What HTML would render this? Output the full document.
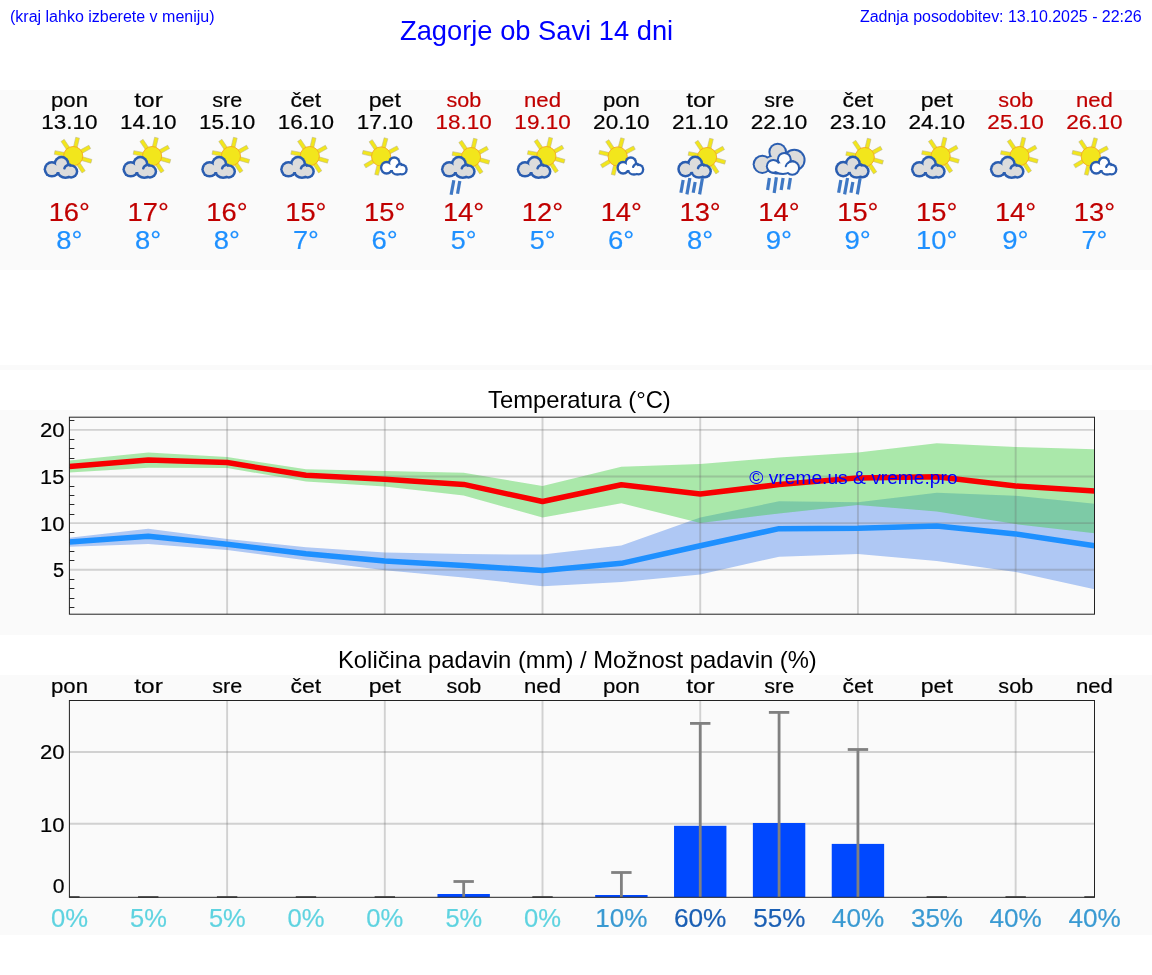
<!DOCTYPE html>
<html><head><meta charset="utf-8"><title>Zagorje ob Savi 14 dni</title>
<style>
html,body{margin:0;padding:0;background:#fff}
body{width:1152px;height:975px;position:relative;overflow:hidden;font-family:"Liberation Sans",sans-serif}
.band{position:absolute;left:0;width:1152px;background:#fafafa}
.t{position:absolute;white-space:nowrap;line-height:1;color:#0000ff}
svg{position:absolute;left:0;top:0;will-change:transform}
.t{will-change:transform}
svg text{font-family:"Liberation Sans",sans-serif}
</style></head><body>
<div class="band" style="top:90px;height:180px"></div>
<div class="band" style="top:365px;height:5px"></div>
<div class="band" style="top:410px;height:225px"></div>
<div class="band" style="top:675px;height:260px"></div>
<div class="t" style="left:10px;top:8.5px;font-size:16px">(kraj lahko izberete v meniju)</div>
<div class="t" style="right:9.8px;top:8.5px;font-size:16px;letter-spacing:-0.03px">Zadnja posodobitev: 13.10.2025 - 22:26</div>
<div class="t" style="left:399.6px;top:16.6px;font-size:27.3px">Zagorje ob Savi 14 dni</div>
<div class="t" style="left:487.5px;top:388px;font-size:23.8px;color:#000">Temperatura (°C)</div>
<div class="t" style="left:338.3px;top:647.5px;font-size:23.8px;color:#000">Količina padavin (mm) / Možnost padavin (%)</div>
<svg width="1152" height="975" viewBox="0 0 1152 975">
<text x="50.99" y="106.9" font-size="20.4" fill="#000" stroke="#000" stroke-width="0.2" textLength="36.98" lengthAdjust="spacingAndGlyphs">pon</text>
<text x="41.25" y="128.75" font-size="20" fill="#000" stroke="#000" stroke-width="0.2" textLength="56.34" lengthAdjust="spacingAndGlyphs">13.10</text>
<text x="48.68" y="221" font-size="26.4" fill="#c00000" stroke="#c00000" stroke-width="0.2" textLength="41.3" lengthAdjust="spacingAndGlyphs">16°</text>
<text x="56.18" y="248.8" font-size="26.4" fill="#1e90ff" stroke="#1e90ff" stroke-width="0.2" textLength="26.17" lengthAdjust="spacingAndGlyphs">8°</text>
<text x="134.23" y="106.9" font-size="20.4" fill="#000" stroke="#000" stroke-width="0.2" textLength="28.56" lengthAdjust="spacingAndGlyphs">tor</text>
<text x="120.1" y="128.75" font-size="20" fill="#000" stroke="#000" stroke-width="0.2" textLength="56.34" lengthAdjust="spacingAndGlyphs">14.10</text>
<text x="127.53" y="221" font-size="26.4" fill="#c00000" stroke="#c00000" stroke-width="0.2" textLength="41.3" lengthAdjust="spacingAndGlyphs">17°</text>
<text x="135.03" y="248.8" font-size="26.4" fill="#1e90ff" stroke="#1e90ff" stroke-width="0.2" textLength="26.17" lengthAdjust="spacingAndGlyphs">8°</text>
<text x="212.27" y="106.9" font-size="20.4" fill="#000" stroke="#000" stroke-width="0.2" textLength="29.96" lengthAdjust="spacingAndGlyphs">sre</text>
<text x="198.95" y="128.75" font-size="20" fill="#000" stroke="#000" stroke-width="0.2" textLength="56.34" lengthAdjust="spacingAndGlyphs">15.10</text>
<text x="206.38" y="221" font-size="26.4" fill="#c00000" stroke="#c00000" stroke-width="0.2" textLength="41.3" lengthAdjust="spacingAndGlyphs">16°</text>
<text x="213.89" y="248.8" font-size="26.4" fill="#1e90ff" stroke="#1e90ff" stroke-width="0.2" textLength="26.17" lengthAdjust="spacingAndGlyphs">8°</text>
<text x="290.53" y="106.9" font-size="20.4" fill="#000" stroke="#000" stroke-width="0.2" textLength="30.7" lengthAdjust="spacingAndGlyphs">čet</text>
<text x="277.81" y="128.75" font-size="20" fill="#000" stroke="#000" stroke-width="0.2" textLength="56.34" lengthAdjust="spacingAndGlyphs">16.10</text>
<text x="285.24" y="221" font-size="26.4" fill="#c00000" stroke="#c00000" stroke-width="0.2" textLength="41.3" lengthAdjust="spacingAndGlyphs">15°</text>
<text x="292.97" y="248.8" font-size="26.4" fill="#1e90ff" stroke="#1e90ff" stroke-width="0.2" textLength="25.93" lengthAdjust="spacingAndGlyphs">7°</text>
<text x="368.73" y="106.9" font-size="20.4" fill="#000" stroke="#000" stroke-width="0.2" textLength="32.15" lengthAdjust="spacingAndGlyphs">pet</text>
<text x="356.66" y="128.75" font-size="20" fill="#000" stroke="#000" stroke-width="0.2" textLength="56.34" lengthAdjust="spacingAndGlyphs">17.10</text>
<text x="364.09" y="221" font-size="26.4" fill="#c00000" stroke="#c00000" stroke-width="0.2" textLength="41.3" lengthAdjust="spacingAndGlyphs">15°</text>
<text x="371.49" y="248.8" font-size="26.4" fill="#1e90ff" stroke="#1e90ff" stroke-width="0.2" textLength="26.29" lengthAdjust="spacingAndGlyphs">6°</text>
<text x="446.41" y="106.9" font-size="20.4" fill="#c00000" stroke="#c00000" stroke-width="0.2" textLength="34.76" lengthAdjust="spacingAndGlyphs">sob</text>
<text x="435.51" y="128.75" font-size="20" fill="#c00000" stroke="#c00000" stroke-width="0.2" textLength="56.34" lengthAdjust="spacingAndGlyphs">18.10</text>
<text x="442.95" y="221" font-size="26.4" fill="#c00000" stroke="#c00000" stroke-width="0.2" textLength="41.3" lengthAdjust="spacingAndGlyphs">14°</text>
<text x="450.79" y="248.8" font-size="26.4" fill="#1e90ff" stroke="#1e90ff" stroke-width="0.2" textLength="25.8" lengthAdjust="spacingAndGlyphs">5°</text>
<text x="524.01" y="106.9" font-size="20.4" fill="#c00000" stroke="#c00000" stroke-width="0.2" textLength="36.99" lengthAdjust="spacingAndGlyphs">ned</text>
<text x="514.37" y="128.75" font-size="20" fill="#c00000" stroke="#c00000" stroke-width="0.2" textLength="56.34" lengthAdjust="spacingAndGlyphs">19.10</text>
<text x="521.8" y="221" font-size="26.4" fill="#c00000" stroke="#c00000" stroke-width="0.2" textLength="41.3" lengthAdjust="spacingAndGlyphs">12°</text>
<text x="529.65" y="248.8" font-size="26.4" fill="#1e90ff" stroke="#1e90ff" stroke-width="0.2" textLength="25.8" lengthAdjust="spacingAndGlyphs">5°</text>
<text x="602.97" y="106.9" font-size="20.4" fill="#000" stroke="#000" stroke-width="0.2" textLength="36.98" lengthAdjust="spacingAndGlyphs">pon</text>
<text x="593.09" y="128.75" font-size="20" fill="#000" stroke="#000" stroke-width="0.2" textLength="56.48" lengthAdjust="spacingAndGlyphs">20.10</text>
<text x="600.65" y="221" font-size="26.4" fill="#c00000" stroke="#c00000" stroke-width="0.2" textLength="41.3" lengthAdjust="spacingAndGlyphs">14°</text>
<text x="608.05" y="248.8" font-size="26.4" fill="#1e90ff" stroke="#1e90ff" stroke-width="0.2" textLength="26.29" lengthAdjust="spacingAndGlyphs">6°</text>
<text x="686.21" y="106.9" font-size="20.4" fill="#000" stroke="#000" stroke-width="0.2" textLength="28.56" lengthAdjust="spacingAndGlyphs">tor</text>
<text x="671.94" y="128.75" font-size="20" fill="#000" stroke="#000" stroke-width="0.2" textLength="56.48" lengthAdjust="spacingAndGlyphs">21.10</text>
<text x="679.51" y="221" font-size="26.4" fill="#c00000" stroke="#c00000" stroke-width="0.2" textLength="41.3" lengthAdjust="spacingAndGlyphs">13°</text>
<text x="687.01" y="248.8" font-size="26.4" fill="#1e90ff" stroke="#1e90ff" stroke-width="0.2" textLength="26.17" lengthAdjust="spacingAndGlyphs">8°</text>
<text x="764.25" y="106.9" font-size="20.4" fill="#000" stroke="#000" stroke-width="0.2" textLength="29.96" lengthAdjust="spacingAndGlyphs">sre</text>
<text x="750.79" y="128.75" font-size="20" fill="#000" stroke="#000" stroke-width="0.2" textLength="56.48" lengthAdjust="spacingAndGlyphs">22.10</text>
<text x="758.36" y="221" font-size="26.4" fill="#c00000" stroke="#c00000" stroke-width="0.2" textLength="41.3" lengthAdjust="spacingAndGlyphs">14°</text>
<text x="765.68" y="248.8" font-size="26.4" fill="#1e90ff" stroke="#1e90ff" stroke-width="0.2" textLength="26.36" lengthAdjust="spacingAndGlyphs">9°</text>
<text x="842.5" y="106.9" font-size="20.4" fill="#000" stroke="#000" stroke-width="0.2" textLength="30.7" lengthAdjust="spacingAndGlyphs">čet</text>
<text x="829.65" y="128.75" font-size="20" fill="#000" stroke="#000" stroke-width="0.2" textLength="56.48" lengthAdjust="spacingAndGlyphs">23.10</text>
<text x="837.21" y="221" font-size="26.4" fill="#c00000" stroke="#c00000" stroke-width="0.2" textLength="41.3" lengthAdjust="spacingAndGlyphs">15°</text>
<text x="844.54" y="248.8" font-size="26.4" fill="#1e90ff" stroke="#1e90ff" stroke-width="0.2" textLength="26.36" lengthAdjust="spacingAndGlyphs">9°</text>
<text x="920.71" y="106.9" font-size="20.4" fill="#000" stroke="#000" stroke-width="0.2" textLength="32.15" lengthAdjust="spacingAndGlyphs">pet</text>
<text x="908.5" y="128.75" font-size="20" fill="#000" stroke="#000" stroke-width="0.2" textLength="56.48" lengthAdjust="spacingAndGlyphs">24.10</text>
<text x="916.07" y="221" font-size="26.4" fill="#c00000" stroke="#c00000" stroke-width="0.2" textLength="41.3" lengthAdjust="spacingAndGlyphs">15°</text>
<text x="916.07" y="248.8" font-size="26.4" fill="#1e90ff" stroke="#1e90ff" stroke-width="0.2" textLength="41.3" lengthAdjust="spacingAndGlyphs">10°</text>
<text x="998.39" y="106.9" font-size="20.4" fill="#c00000" stroke="#c00000" stroke-width="0.2" textLength="34.76" lengthAdjust="spacingAndGlyphs">sob</text>
<text x="987.36" y="128.75" font-size="20" fill="#c00000" stroke="#c00000" stroke-width="0.2" textLength="56.48" lengthAdjust="spacingAndGlyphs">25.10</text>
<text x="994.92" y="221" font-size="26.4" fill="#c00000" stroke="#c00000" stroke-width="0.2" textLength="41.3" lengthAdjust="spacingAndGlyphs">14°</text>
<text x="1002.24" y="248.8" font-size="26.4" fill="#1e90ff" stroke="#1e90ff" stroke-width="0.2" textLength="26.36" lengthAdjust="spacingAndGlyphs">9°</text>
<text x="1075.98" y="106.9" font-size="20.4" fill="#c00000" stroke="#c00000" stroke-width="0.2" textLength="36.99" lengthAdjust="spacingAndGlyphs">ned</text>
<text x="1066.21" y="128.75" font-size="20" fill="#c00000" stroke="#c00000" stroke-width="0.2" textLength="56.48" lengthAdjust="spacingAndGlyphs">26.10</text>
<text x="1073.78" y="221" font-size="26.4" fill="#c00000" stroke="#c00000" stroke-width="0.2" textLength="41.3" lengthAdjust="spacingAndGlyphs">13°</text>
<text x="1081.51" y="248.8" font-size="26.4" fill="#1e90ff" stroke="#1e90ff" stroke-width="0.2" textLength="25.93" lengthAdjust="spacingAndGlyphs">7°</text>
<rect x="9" y="-1.9" width="9.9" height="3.8" fill="#f2e61c" stroke="#b9b48a" stroke-width="0.5" transform="translate(73.2 156.1) rotate(-169)"/><rect x="9" y="-1.9" width="9.9" height="3.8" fill="#f2e61c" stroke="#b9b48a" stroke-width="0.5" transform="translate(73.2 156.1) rotate(-124)"/><rect x="9" y="-1.9" width="9.9" height="3.8" fill="#f2e61c" stroke="#b9b48a" stroke-width="0.5" transform="translate(73.2 156.1) rotate(-76.5)"/><rect x="9" y="-1.9" width="9.9" height="3.8" fill="#f2e61c" stroke="#b9b48a" stroke-width="0.5" transform="translate(73.2 156.1) rotate(-29)"/><rect x="9" y="-1.9" width="9.9" height="3.8" fill="#f2e61c" stroke="#b9b48a" stroke-width="0.5" transform="translate(73.2 156.1) rotate(16)"/><rect x="9" y="-1.9" width="9.9" height="3.8" fill="#f2e61c" stroke="#b9b48a" stroke-width="0.5" transform="translate(73.2 156.1) rotate(56.5)"/><rect x="9" y="-1.9" width="9.9" height="3.8" fill="#f2e61c" stroke="#b9b48a" stroke-width="0.5" transform="translate(73.2 156.1) rotate(101)"/><rect x="9" y="-1.9" width="9.9" height="3.8" fill="#f2e61c" stroke="#b9b48a" stroke-width="0.5" transform="translate(73.2 156.1) rotate(146)"/><circle cx="73.2" cy="156.1" r="9.6" fill="#f2e61c" stroke="#f5a81c" stroke-width="0.9"/>
<g transform="translate(69.4 167.5) scale(1 1) translate(0 -167.5)"><circle cx="-17.5" cy="169.3" r="8.3" fill="#2a5db0"/><circle cx="-7.9" cy="163.8" r="8" fill="#2a5db0"/><circle cx="1.7" cy="171.5" r="7.2" fill="#2a5db0"/><ellipse cx="-4" cy="172" rx="8.5" ry="6.9" fill="#2a5db0"/><circle cx="-17.5" cy="169.3" r="5.8" fill="#dcdcdc"/><circle cx="-7.9" cy="163.8" r="5.5" fill="#dcdcdc"/><circle cx="1.7" cy="171.5" r="4.7" fill="#dcdcdc"/><ellipse cx="-4" cy="172" rx="6" ry="4.4" fill="#dcdcdc"/><rect x="-16" y="166" width="16" height="6" fill="#dcdcdc"/><path d="M0.6 164.7Q-3.9 164.9 -5 168.3" fill="none" stroke="#2a5db0" stroke-width="2.5" stroke-linecap="round"/></g>
<rect x="9" y="-1.9" width="9.9" height="3.8" fill="#f2e61c" stroke="#b9b48a" stroke-width="0.5" transform="translate(152.05 156.1) rotate(-169)"/><rect x="9" y="-1.9" width="9.9" height="3.8" fill="#f2e61c" stroke="#b9b48a" stroke-width="0.5" transform="translate(152.05 156.1) rotate(-124)"/><rect x="9" y="-1.9" width="9.9" height="3.8" fill="#f2e61c" stroke="#b9b48a" stroke-width="0.5" transform="translate(152.05 156.1) rotate(-76.5)"/><rect x="9" y="-1.9" width="9.9" height="3.8" fill="#f2e61c" stroke="#b9b48a" stroke-width="0.5" transform="translate(152.05 156.1) rotate(-29)"/><rect x="9" y="-1.9" width="9.9" height="3.8" fill="#f2e61c" stroke="#b9b48a" stroke-width="0.5" transform="translate(152.05 156.1) rotate(16)"/><rect x="9" y="-1.9" width="9.9" height="3.8" fill="#f2e61c" stroke="#b9b48a" stroke-width="0.5" transform="translate(152.05 156.1) rotate(56.5)"/><rect x="9" y="-1.9" width="9.9" height="3.8" fill="#f2e61c" stroke="#b9b48a" stroke-width="0.5" transform="translate(152.05 156.1) rotate(101)"/><rect x="9" y="-1.9" width="9.9" height="3.8" fill="#f2e61c" stroke="#b9b48a" stroke-width="0.5" transform="translate(152.05 156.1) rotate(146)"/><circle cx="152.05" cy="156.1" r="9.6" fill="#f2e61c" stroke="#f5a81c" stroke-width="0.9"/>
<g transform="translate(148.25 167.5) scale(1 1) translate(0 -167.5)"><circle cx="-17.5" cy="169.3" r="8.3" fill="#2a5db0"/><circle cx="-7.9" cy="163.8" r="8" fill="#2a5db0"/><circle cx="1.7" cy="171.5" r="7.2" fill="#2a5db0"/><ellipse cx="-4" cy="172" rx="8.5" ry="6.9" fill="#2a5db0"/><circle cx="-17.5" cy="169.3" r="5.8" fill="#dcdcdc"/><circle cx="-7.9" cy="163.8" r="5.5" fill="#dcdcdc"/><circle cx="1.7" cy="171.5" r="4.7" fill="#dcdcdc"/><ellipse cx="-4" cy="172" rx="6" ry="4.4" fill="#dcdcdc"/><rect x="-16" y="166" width="16" height="6" fill="#dcdcdc"/><path d="M0.6 164.7Q-3.9 164.9 -5 168.3" fill="none" stroke="#2a5db0" stroke-width="2.5" stroke-linecap="round"/></g>
<rect x="9" y="-1.9" width="9.9" height="3.8" fill="#f2e61c" stroke="#b9b48a" stroke-width="0.5" transform="translate(230.91 156.1) rotate(-169)"/><rect x="9" y="-1.9" width="9.9" height="3.8" fill="#f2e61c" stroke="#b9b48a" stroke-width="0.5" transform="translate(230.91 156.1) rotate(-124)"/><rect x="9" y="-1.9" width="9.9" height="3.8" fill="#f2e61c" stroke="#b9b48a" stroke-width="0.5" transform="translate(230.91 156.1) rotate(-76.5)"/><rect x="9" y="-1.9" width="9.9" height="3.8" fill="#f2e61c" stroke="#b9b48a" stroke-width="0.5" transform="translate(230.91 156.1) rotate(-29)"/><rect x="9" y="-1.9" width="9.9" height="3.8" fill="#f2e61c" stroke="#b9b48a" stroke-width="0.5" transform="translate(230.91 156.1) rotate(16)"/><rect x="9" y="-1.9" width="9.9" height="3.8" fill="#f2e61c" stroke="#b9b48a" stroke-width="0.5" transform="translate(230.91 156.1) rotate(56.5)"/><rect x="9" y="-1.9" width="9.9" height="3.8" fill="#f2e61c" stroke="#b9b48a" stroke-width="0.5" transform="translate(230.91 156.1) rotate(101)"/><rect x="9" y="-1.9" width="9.9" height="3.8" fill="#f2e61c" stroke="#b9b48a" stroke-width="0.5" transform="translate(230.91 156.1) rotate(146)"/><circle cx="230.91" cy="156.1" r="9.6" fill="#f2e61c" stroke="#f5a81c" stroke-width="0.9"/>
<g transform="translate(227.11 167.5) scale(1 1) translate(0 -167.5)"><circle cx="-17.5" cy="169.3" r="8.3" fill="#2a5db0"/><circle cx="-7.9" cy="163.8" r="8" fill="#2a5db0"/><circle cx="1.7" cy="171.5" r="7.2" fill="#2a5db0"/><ellipse cx="-4" cy="172" rx="8.5" ry="6.9" fill="#2a5db0"/><circle cx="-17.5" cy="169.3" r="5.8" fill="#dcdcdc"/><circle cx="-7.9" cy="163.8" r="5.5" fill="#dcdcdc"/><circle cx="1.7" cy="171.5" r="4.7" fill="#dcdcdc"/><ellipse cx="-4" cy="172" rx="6" ry="4.4" fill="#dcdcdc"/><rect x="-16" y="166" width="16" height="6" fill="#dcdcdc"/><path d="M0.6 164.7Q-3.9 164.9 -5 168.3" fill="none" stroke="#2a5db0" stroke-width="2.5" stroke-linecap="round"/></g>
<rect x="9" y="-1.9" width="9.9" height="3.8" fill="#f2e61c" stroke="#b9b48a" stroke-width="0.5" transform="translate(309.76 156.1) rotate(-169)"/><rect x="9" y="-1.9" width="9.9" height="3.8" fill="#f2e61c" stroke="#b9b48a" stroke-width="0.5" transform="translate(309.76 156.1) rotate(-124)"/><rect x="9" y="-1.9" width="9.9" height="3.8" fill="#f2e61c" stroke="#b9b48a" stroke-width="0.5" transform="translate(309.76 156.1) rotate(-76.5)"/><rect x="9" y="-1.9" width="9.9" height="3.8" fill="#f2e61c" stroke="#b9b48a" stroke-width="0.5" transform="translate(309.76 156.1) rotate(-29)"/><rect x="9" y="-1.9" width="9.9" height="3.8" fill="#f2e61c" stroke="#b9b48a" stroke-width="0.5" transform="translate(309.76 156.1) rotate(16)"/><rect x="9" y="-1.9" width="9.9" height="3.8" fill="#f2e61c" stroke="#b9b48a" stroke-width="0.5" transform="translate(309.76 156.1) rotate(56.5)"/><rect x="9" y="-1.9" width="9.9" height="3.8" fill="#f2e61c" stroke="#b9b48a" stroke-width="0.5" transform="translate(309.76 156.1) rotate(101)"/><rect x="9" y="-1.9" width="9.9" height="3.8" fill="#f2e61c" stroke="#b9b48a" stroke-width="0.5" transform="translate(309.76 156.1) rotate(146)"/><circle cx="309.76" cy="156.1" r="9.6" fill="#f2e61c" stroke="#f5a81c" stroke-width="0.9"/>
<g transform="translate(305.96 167.5) scale(1 1) translate(0 -167.5)"><circle cx="-17.5" cy="169.3" r="8.3" fill="#2a5db0"/><circle cx="-7.9" cy="163.8" r="8" fill="#2a5db0"/><circle cx="1.7" cy="171.5" r="7.2" fill="#2a5db0"/><ellipse cx="-4" cy="172" rx="8.5" ry="6.9" fill="#2a5db0"/><circle cx="-17.5" cy="169.3" r="5.8" fill="#dcdcdc"/><circle cx="-7.9" cy="163.8" r="5.5" fill="#dcdcdc"/><circle cx="1.7" cy="171.5" r="4.7" fill="#dcdcdc"/><ellipse cx="-4" cy="172" rx="6" ry="4.4" fill="#dcdcdc"/><rect x="-16" y="166" width="16" height="6" fill="#dcdcdc"/><path d="M0.6 164.7Q-3.9 164.9 -5 168.3" fill="none" stroke="#2a5db0" stroke-width="2.5" stroke-linecap="round"/></g>
<rect x="9" y="-1.9" width="9.9" height="3.8" fill="#f2e61c" stroke="#b9b48a" stroke-width="0.5" transform="translate(381.12 156.5) rotate(-167)"/><rect x="9" y="-1.9" width="9.9" height="3.8" fill="#f2e61c" stroke="#b9b48a" stroke-width="0.5" transform="translate(381.12 156.5) rotate(-123.5)"/><rect x="9" y="-1.9" width="9.9" height="3.8" fill="#f2e61c" stroke="#b9b48a" stroke-width="0.5" transform="translate(381.12 156.5) rotate(-75)"/><rect x="9" y="-1.9" width="9.9" height="3.8" fill="#f2e61c" stroke="#b9b48a" stroke-width="0.5" transform="translate(381.12 156.5) rotate(-28)"/><rect x="9" y="-1.9" width="9.9" height="3.8" fill="#f2e61c" stroke="#b9b48a" stroke-width="0.5" transform="translate(381.12 156.5) rotate(17)"/><rect x="9" y="-1.9" width="9.9" height="3.8" fill="#f2e61c" stroke="#b9b48a" stroke-width="0.5" transform="translate(381.12 156.5) rotate(60)"/><rect x="9" y="-1.9" width="9.9" height="3.8" fill="#f2e61c" stroke="#b9b48a" stroke-width="0.5" transform="translate(381.12 156.5) rotate(104)"/><rect x="9" y="-1.9" width="9.9" height="3.8" fill="#f2e61c" stroke="#b9b48a" stroke-width="0.5" transform="translate(381.12 156.5) rotate(149)"/><circle cx="381.12" cy="156.5" r="9.6" fill="#f2e61c" stroke="#f5a81c" stroke-width="0.9"/>
<g transform="translate(400.58 166.19) scale(0.8 0.84) translate(0 -167.5)"><circle cx="-17.5" cy="169.3" r="8.3" fill="#2a5db0"/><circle cx="-7.9" cy="163.8" r="8" fill="#2a5db0"/><circle cx="1.7" cy="171.5" r="7.2" fill="#2a5db0"/><ellipse cx="-4" cy="172" rx="8.5" ry="6.9" fill="#2a5db0"/><circle cx="-17.5" cy="169.3" r="5.43" fill="#fff"/><circle cx="-7.9" cy="163.8" r="5.12" fill="#fff"/><circle cx="1.7" cy="171.5" r="4.33" fill="#fff"/><ellipse cx="-4" cy="172" rx="5.62" ry="4.03" fill="#fff"/><rect x="-16" y="166" width="16" height="6" fill="#fff"/><path d="M0.6 164.7Q-3.9 164.9 -5 168.3" fill="none" stroke="#2a5db0" stroke-width="2.87" stroke-linecap="round"/></g>
<rect x="9" y="-1.9" width="9.9" height="3.8" fill="#f2e61c" stroke="#b9b48a" stroke-width="0.5" transform="translate(470.97 157.1) rotate(-169)"/><rect x="9" y="-1.9" width="9.9" height="3.8" fill="#f2e61c" stroke="#b9b48a" stroke-width="0.5" transform="translate(470.97 157.1) rotate(-124)"/><rect x="9" y="-1.9" width="9.9" height="3.8" fill="#f2e61c" stroke="#b9b48a" stroke-width="0.5" transform="translate(470.97 157.1) rotate(-76.5)"/><rect x="9" y="-1.9" width="9.9" height="3.8" fill="#f2e61c" stroke="#b9b48a" stroke-width="0.5" transform="translate(470.97 157.1) rotate(-29)"/><rect x="9" y="-1.9" width="9.9" height="3.8" fill="#f2e61c" stroke="#b9b48a" stroke-width="0.5" transform="translate(470.97 157.1) rotate(16)"/><rect x="9" y="-1.9" width="9.9" height="3.8" fill="#f2e61c" stroke="#b9b48a" stroke-width="0.5" transform="translate(470.97 157.1) rotate(56.5)"/><rect x="9" y="-1.9" width="9.9" height="3.8" fill="#f2e61c" stroke="#b9b48a" stroke-width="0.5" transform="translate(470.97 157.1) rotate(101)"/><rect x="9" y="-1.9" width="9.9" height="3.8" fill="#f2e61c" stroke="#b9b48a" stroke-width="0.5" transform="translate(470.97 157.1) rotate(146)"/><circle cx="470.97" cy="157.1" r="9.6" fill="#f2e61c" stroke="#f5a81c" stroke-width="0.9"/>
<g transform="translate(466.77 167.5) scale(1 1) translate(0 -167.5)"><circle cx="-17.5" cy="169.3" r="8.3" fill="#2a5db0"/><circle cx="-7.9" cy="163.8" r="8" fill="#2a5db0"/><circle cx="1.7" cy="171.5" r="7.2" fill="#2a5db0"/><ellipse cx="-4" cy="172" rx="8.5" ry="6.9" fill="#2a5db0"/><circle cx="-17.5" cy="169.3" r="5.8" fill="#dcdcdc"/><circle cx="-7.9" cy="163.8" r="5.5" fill="#dcdcdc"/><circle cx="1.7" cy="171.5" r="4.7" fill="#dcdcdc"/><ellipse cx="-4" cy="172" rx="6" ry="4.4" fill="#dcdcdc"/><rect x="-16" y="166" width="16" height="6" fill="#dcdcdc"/><path d="M0.6 164.7Q-3.9 164.9 -5 168.3" fill="none" stroke="#2a5db0" stroke-width="2.5" stroke-linecap="round"/></g>
<line x1="453.8" y1="180.31" x2="451.14" y2="194.69" stroke="#3f78c4" stroke-width="3.2"/><line x1="459.79" y1="181.01" x2="457.55" y2="193.69" stroke="#3f78c4" stroke-width="3.2"/>
<rect x="9" y="-1.9" width="9.9" height="3.8" fill="#f2e61c" stroke="#b9b48a" stroke-width="0.5" transform="translate(546.32 156.1) rotate(-169)"/><rect x="9" y="-1.9" width="9.9" height="3.8" fill="#f2e61c" stroke="#b9b48a" stroke-width="0.5" transform="translate(546.32 156.1) rotate(-124)"/><rect x="9" y="-1.9" width="9.9" height="3.8" fill="#f2e61c" stroke="#b9b48a" stroke-width="0.5" transform="translate(546.32 156.1) rotate(-76.5)"/><rect x="9" y="-1.9" width="9.9" height="3.8" fill="#f2e61c" stroke="#b9b48a" stroke-width="0.5" transform="translate(546.32 156.1) rotate(-29)"/><rect x="9" y="-1.9" width="9.9" height="3.8" fill="#f2e61c" stroke="#b9b48a" stroke-width="0.5" transform="translate(546.32 156.1) rotate(16)"/><rect x="9" y="-1.9" width="9.9" height="3.8" fill="#f2e61c" stroke="#b9b48a" stroke-width="0.5" transform="translate(546.32 156.1) rotate(56.5)"/><rect x="9" y="-1.9" width="9.9" height="3.8" fill="#f2e61c" stroke="#b9b48a" stroke-width="0.5" transform="translate(546.32 156.1) rotate(101)"/><rect x="9" y="-1.9" width="9.9" height="3.8" fill="#f2e61c" stroke="#b9b48a" stroke-width="0.5" transform="translate(546.32 156.1) rotate(146)"/><circle cx="546.32" cy="156.1" r="9.6" fill="#f2e61c" stroke="#f5a81c" stroke-width="0.9"/>
<g transform="translate(542.52 167.5) scale(1 1) translate(0 -167.5)"><circle cx="-17.5" cy="169.3" r="8.3" fill="#2a5db0"/><circle cx="-7.9" cy="163.8" r="8" fill="#2a5db0"/><circle cx="1.7" cy="171.5" r="7.2" fill="#2a5db0"/><ellipse cx="-4" cy="172" rx="8.5" ry="6.9" fill="#2a5db0"/><circle cx="-17.5" cy="169.3" r="5.8" fill="#dcdcdc"/><circle cx="-7.9" cy="163.8" r="5.5" fill="#dcdcdc"/><circle cx="1.7" cy="171.5" r="4.7" fill="#dcdcdc"/><ellipse cx="-4" cy="172" rx="6" ry="4.4" fill="#dcdcdc"/><rect x="-16" y="166" width="16" height="6" fill="#dcdcdc"/><path d="M0.6 164.7Q-3.9 164.9 -5 168.3" fill="none" stroke="#2a5db0" stroke-width="2.5" stroke-linecap="round"/></g>
<rect x="9" y="-1.9" width="9.9" height="3.8" fill="#f2e61c" stroke="#b9b48a" stroke-width="0.5" transform="translate(617.68 156.5) rotate(-167)"/><rect x="9" y="-1.9" width="9.9" height="3.8" fill="#f2e61c" stroke="#b9b48a" stroke-width="0.5" transform="translate(617.68 156.5) rotate(-123.5)"/><rect x="9" y="-1.9" width="9.9" height="3.8" fill="#f2e61c" stroke="#b9b48a" stroke-width="0.5" transform="translate(617.68 156.5) rotate(-75)"/><rect x="9" y="-1.9" width="9.9" height="3.8" fill="#f2e61c" stroke="#b9b48a" stroke-width="0.5" transform="translate(617.68 156.5) rotate(-28)"/><rect x="9" y="-1.9" width="9.9" height="3.8" fill="#f2e61c" stroke="#b9b48a" stroke-width="0.5" transform="translate(617.68 156.5) rotate(17)"/><rect x="9" y="-1.9" width="9.9" height="3.8" fill="#f2e61c" stroke="#b9b48a" stroke-width="0.5" transform="translate(617.68 156.5) rotate(60)"/><rect x="9" y="-1.9" width="9.9" height="3.8" fill="#f2e61c" stroke="#b9b48a" stroke-width="0.5" transform="translate(617.68 156.5) rotate(104)"/><rect x="9" y="-1.9" width="9.9" height="3.8" fill="#f2e61c" stroke="#b9b48a" stroke-width="0.5" transform="translate(617.68 156.5) rotate(149)"/><circle cx="617.68" cy="156.5" r="9.6" fill="#f2e61c" stroke="#f5a81c" stroke-width="0.9"/>
<g transform="translate(637.14 166.19) scale(0.8 0.84) translate(0 -167.5)"><circle cx="-17.5" cy="169.3" r="8.3" fill="#2a5db0"/><circle cx="-7.9" cy="163.8" r="8" fill="#2a5db0"/><circle cx="1.7" cy="171.5" r="7.2" fill="#2a5db0"/><ellipse cx="-4" cy="172" rx="8.5" ry="6.9" fill="#2a5db0"/><circle cx="-17.5" cy="169.3" r="5.43" fill="#fff"/><circle cx="-7.9" cy="163.8" r="5.12" fill="#fff"/><circle cx="1.7" cy="171.5" r="4.33" fill="#fff"/><ellipse cx="-4" cy="172" rx="5.62" ry="4.03" fill="#fff"/><rect x="-16" y="166" width="16" height="6" fill="#fff"/><path d="M0.6 164.7Q-3.9 164.9 -5 168.3" fill="none" stroke="#2a5db0" stroke-width="2.87" stroke-linecap="round"/></g>
<rect x="9" y="-1.9" width="9.9" height="3.8" fill="#f2e61c" stroke="#b9b48a" stroke-width="0.5" transform="translate(707.03 157.1) rotate(-169)"/><rect x="9" y="-1.9" width="9.9" height="3.8" fill="#f2e61c" stroke="#b9b48a" stroke-width="0.5" transform="translate(707.03 157.1) rotate(-124)"/><rect x="9" y="-1.9" width="9.9" height="3.8" fill="#f2e61c" stroke="#b9b48a" stroke-width="0.5" transform="translate(707.03 157.1) rotate(-76.5)"/><rect x="9" y="-1.9" width="9.9" height="3.8" fill="#f2e61c" stroke="#b9b48a" stroke-width="0.5" transform="translate(707.03 157.1) rotate(-29)"/><rect x="9" y="-1.9" width="9.9" height="3.8" fill="#f2e61c" stroke="#b9b48a" stroke-width="0.5" transform="translate(707.03 157.1) rotate(16)"/><rect x="9" y="-1.9" width="9.9" height="3.8" fill="#f2e61c" stroke="#b9b48a" stroke-width="0.5" transform="translate(707.03 157.1) rotate(56.5)"/><rect x="9" y="-1.9" width="9.9" height="3.8" fill="#f2e61c" stroke="#b9b48a" stroke-width="0.5" transform="translate(707.03 157.1) rotate(101)"/><rect x="9" y="-1.9" width="9.9" height="3.8" fill="#f2e61c" stroke="#b9b48a" stroke-width="0.5" transform="translate(707.03 157.1) rotate(146)"/><circle cx="707.03" cy="157.1" r="9.6" fill="#f2e61c" stroke="#f5a81c" stroke-width="0.9"/>
<g transform="translate(703.03 167.3) scale(1 1) translate(0 -167.5)"><circle cx="-17.5" cy="169.3" r="8.3" fill="#2a5db0"/><circle cx="-7.9" cy="163.8" r="8" fill="#2a5db0"/><circle cx="1.7" cy="171.5" r="7.2" fill="#2a5db0"/><ellipse cx="-4" cy="172" rx="8.5" ry="6.9" fill="#2a5db0"/><circle cx="-17.5" cy="169.3" r="5.8" fill="#dcdcdc"/><circle cx="-7.9" cy="163.8" r="5.5" fill="#dcdcdc"/><circle cx="1.7" cy="171.5" r="4.7" fill="#dcdcdc"/><ellipse cx="-4" cy="172" rx="6" ry="4.4" fill="#dcdcdc"/><rect x="-16" y="166" width="16" height="6" fill="#dcdcdc"/><path d="M0.6 164.7Q-3.9 164.9 -5 168.3" fill="none" stroke="#2a5db0" stroke-width="2.5" stroke-linecap="round"/></g>
<line x1="683.15" y1="180.01" x2="680.91" y2="192.69" stroke="#3f78c4" stroke-width="3.2"/><line x1="689.85" y1="178.01" x2="686.91" y2="194.39" stroke="#3f78c4" stroke-width="3.2"/><line x1="695.16" y1="182.01" x2="693.2" y2="192.69" stroke="#3f78c4" stroke-width="3.2"/><line x1="702.45" y1="178.01" x2="699.61" y2="194.39" stroke="#3f78c4" stroke-width="3.2"/>
<circle cx="762.28" cy="164.3" r="9.6" fill="#2a5db0"/>
<circle cx="777.68" cy="152" r="9.3" fill="#2a5db0"/>
<circle cx="794.28" cy="160" r="11.3" fill="#2a5db0"/>
<ellipse cx="778.98" cy="164" rx="16" ry="10.5" fill="#2a5db0"/>
<circle cx="762.28" cy="164.3" r="7.6" fill="#dcdcdc"/>
<circle cx="777.68" cy="152" r="7.3" fill="#dcdcdc"/>
<circle cx="794.28" cy="160" r="9.3" fill="#dcdcdc"/>
<ellipse cx="778.98" cy="164" rx="15" ry="8.5" fill="#dcdcdc"/>
<circle cx="773.28" cy="166.3" r="7.4" fill="#2a5db0"/>
<circle cx="784.28" cy="159.3" r="7.4" fill="#2a5db0"/>
<circle cx="792.28" cy="168" r="7.8" fill="#2a5db0"/>
<ellipse cx="782.98" cy="168" rx="9" ry="7" fill="#2a5db0"/>
<circle cx="773.28" cy="166.3" r="5.4" fill="#fcfcfc"/>
<circle cx="784.28" cy="159.3" r="5.4" fill="#fcfcfc"/>
<circle cx="792.28" cy="168" r="5.8" fill="#fcfcfc"/>
<ellipse cx="782.98" cy="168" rx="9" ry="5" fill="#fcfcfc"/>
<path d="M793.47 161.3A6.8 6.8 0 0 0 785.72 166.24" fill="none" stroke="#2a5db0" stroke-width="2.0" stroke-linecap="round"/>
<line x1="769.39" y1="178.01" x2="767.58" y2="189.99" stroke="#3f78c4" stroke-width="3.2"/><line x1="776.38" y1="177.31" x2="774.19" y2="192.99" stroke="#3f78c4" stroke-width="3.2"/><line x1="783.1" y1="178.01" x2="781.17" y2="189.99" stroke="#3f78c4" stroke-width="3.2"/><line x1="790.4" y1="178.01" x2="788.57" y2="189.39" stroke="#3f78c4" stroke-width="3.2"/>
<rect x="9" y="-1.9" width="9.9" height="3.8" fill="#f2e61c" stroke="#b9b48a" stroke-width="0.5" transform="translate(864.74 157.1) rotate(-169)"/><rect x="9" y="-1.9" width="9.9" height="3.8" fill="#f2e61c" stroke="#b9b48a" stroke-width="0.5" transform="translate(864.74 157.1) rotate(-124)"/><rect x="9" y="-1.9" width="9.9" height="3.8" fill="#f2e61c" stroke="#b9b48a" stroke-width="0.5" transform="translate(864.74 157.1) rotate(-76.5)"/><rect x="9" y="-1.9" width="9.9" height="3.8" fill="#f2e61c" stroke="#b9b48a" stroke-width="0.5" transform="translate(864.74 157.1) rotate(-29)"/><rect x="9" y="-1.9" width="9.9" height="3.8" fill="#f2e61c" stroke="#b9b48a" stroke-width="0.5" transform="translate(864.74 157.1) rotate(16)"/><rect x="9" y="-1.9" width="9.9" height="3.8" fill="#f2e61c" stroke="#b9b48a" stroke-width="0.5" transform="translate(864.74 157.1) rotate(56.5)"/><rect x="9" y="-1.9" width="9.9" height="3.8" fill="#f2e61c" stroke="#b9b48a" stroke-width="0.5" transform="translate(864.74 157.1) rotate(101)"/><rect x="9" y="-1.9" width="9.9" height="3.8" fill="#f2e61c" stroke="#b9b48a" stroke-width="0.5" transform="translate(864.74 157.1) rotate(146)"/><circle cx="864.74" cy="157.1" r="9.6" fill="#f2e61c" stroke="#f5a81c" stroke-width="0.9"/>
<g transform="translate(860.74 167.3) scale(1 1) translate(0 -167.5)"><circle cx="-17.5" cy="169.3" r="8.3" fill="#2a5db0"/><circle cx="-7.9" cy="163.8" r="8" fill="#2a5db0"/><circle cx="1.7" cy="171.5" r="7.2" fill="#2a5db0"/><ellipse cx="-4" cy="172" rx="8.5" ry="6.9" fill="#2a5db0"/><circle cx="-17.5" cy="169.3" r="5.8" fill="#dcdcdc"/><circle cx="-7.9" cy="163.8" r="5.5" fill="#dcdcdc"/><circle cx="1.7" cy="171.5" r="4.7" fill="#dcdcdc"/><ellipse cx="-4" cy="172" rx="6" ry="4.4" fill="#dcdcdc"/><rect x="-16" y="166" width="16" height="6" fill="#dcdcdc"/><path d="M0.6 164.7Q-3.9 164.9 -5 168.3" fill="none" stroke="#2a5db0" stroke-width="2.5" stroke-linecap="round"/></g>
<line x1="840.86" y1="180.01" x2="838.62" y2="192.69" stroke="#3f78c4" stroke-width="3.2"/><line x1="847.56" y1="178.01" x2="844.61" y2="194.39" stroke="#3f78c4" stroke-width="3.2"/><line x1="852.86" y1="182.01" x2="850.91" y2="192.69" stroke="#3f78c4" stroke-width="3.2"/><line x1="860.16" y1="178.01" x2="857.32" y2="194.39" stroke="#3f78c4" stroke-width="3.2"/>
<rect x="9" y="-1.9" width="9.9" height="3.8" fill="#f2e61c" stroke="#b9b48a" stroke-width="0.5" transform="translate(940.59 156.1) rotate(-169)"/><rect x="9" y="-1.9" width="9.9" height="3.8" fill="#f2e61c" stroke="#b9b48a" stroke-width="0.5" transform="translate(940.59 156.1) rotate(-124)"/><rect x="9" y="-1.9" width="9.9" height="3.8" fill="#f2e61c" stroke="#b9b48a" stroke-width="0.5" transform="translate(940.59 156.1) rotate(-76.5)"/><rect x="9" y="-1.9" width="9.9" height="3.8" fill="#f2e61c" stroke="#b9b48a" stroke-width="0.5" transform="translate(940.59 156.1) rotate(-29)"/><rect x="9" y="-1.9" width="9.9" height="3.8" fill="#f2e61c" stroke="#b9b48a" stroke-width="0.5" transform="translate(940.59 156.1) rotate(16)"/><rect x="9" y="-1.9" width="9.9" height="3.8" fill="#f2e61c" stroke="#b9b48a" stroke-width="0.5" transform="translate(940.59 156.1) rotate(56.5)"/><rect x="9" y="-1.9" width="9.9" height="3.8" fill="#f2e61c" stroke="#b9b48a" stroke-width="0.5" transform="translate(940.59 156.1) rotate(101)"/><rect x="9" y="-1.9" width="9.9" height="3.8" fill="#f2e61c" stroke="#b9b48a" stroke-width="0.5" transform="translate(940.59 156.1) rotate(146)"/><circle cx="940.59" cy="156.1" r="9.6" fill="#f2e61c" stroke="#f5a81c" stroke-width="0.9"/>
<g transform="translate(936.79 167.5) scale(1 1) translate(0 -167.5)"><circle cx="-17.5" cy="169.3" r="8.3" fill="#2a5db0"/><circle cx="-7.9" cy="163.8" r="8" fill="#2a5db0"/><circle cx="1.7" cy="171.5" r="7.2" fill="#2a5db0"/><ellipse cx="-4" cy="172" rx="8.5" ry="6.9" fill="#2a5db0"/><circle cx="-17.5" cy="169.3" r="5.8" fill="#dcdcdc"/><circle cx="-7.9" cy="163.8" r="5.5" fill="#dcdcdc"/><circle cx="1.7" cy="171.5" r="4.7" fill="#dcdcdc"/><ellipse cx="-4" cy="172" rx="6" ry="4.4" fill="#dcdcdc"/><rect x="-16" y="166" width="16" height="6" fill="#dcdcdc"/><path d="M0.6 164.7Q-3.9 164.9 -5 168.3" fill="none" stroke="#2a5db0" stroke-width="2.5" stroke-linecap="round"/></g>
<rect x="9" y="-1.9" width="9.9" height="3.8" fill="#f2e61c" stroke="#b9b48a" stroke-width="0.5" transform="translate(1019.45 156.1) rotate(-169)"/><rect x="9" y="-1.9" width="9.9" height="3.8" fill="#f2e61c" stroke="#b9b48a" stroke-width="0.5" transform="translate(1019.45 156.1) rotate(-124)"/><rect x="9" y="-1.9" width="9.9" height="3.8" fill="#f2e61c" stroke="#b9b48a" stroke-width="0.5" transform="translate(1019.45 156.1) rotate(-76.5)"/><rect x="9" y="-1.9" width="9.9" height="3.8" fill="#f2e61c" stroke="#b9b48a" stroke-width="0.5" transform="translate(1019.45 156.1) rotate(-29)"/><rect x="9" y="-1.9" width="9.9" height="3.8" fill="#f2e61c" stroke="#b9b48a" stroke-width="0.5" transform="translate(1019.45 156.1) rotate(16)"/><rect x="9" y="-1.9" width="9.9" height="3.8" fill="#f2e61c" stroke="#b9b48a" stroke-width="0.5" transform="translate(1019.45 156.1) rotate(56.5)"/><rect x="9" y="-1.9" width="9.9" height="3.8" fill="#f2e61c" stroke="#b9b48a" stroke-width="0.5" transform="translate(1019.45 156.1) rotate(101)"/><rect x="9" y="-1.9" width="9.9" height="3.8" fill="#f2e61c" stroke="#b9b48a" stroke-width="0.5" transform="translate(1019.45 156.1) rotate(146)"/><circle cx="1019.45" cy="156.1" r="9.6" fill="#f2e61c" stroke="#f5a81c" stroke-width="0.9"/>
<g transform="translate(1015.65 167.5) scale(1 1) translate(0 -167.5)"><circle cx="-17.5" cy="169.3" r="8.3" fill="#2a5db0"/><circle cx="-7.9" cy="163.8" r="8" fill="#2a5db0"/><circle cx="1.7" cy="171.5" r="7.2" fill="#2a5db0"/><ellipse cx="-4" cy="172" rx="8.5" ry="6.9" fill="#2a5db0"/><circle cx="-17.5" cy="169.3" r="5.8" fill="#dcdcdc"/><circle cx="-7.9" cy="163.8" r="5.5" fill="#dcdcdc"/><circle cx="1.7" cy="171.5" r="4.7" fill="#dcdcdc"/><ellipse cx="-4" cy="172" rx="6" ry="4.4" fill="#dcdcdc"/><rect x="-16" y="166" width="16" height="6" fill="#dcdcdc"/><path d="M0.6 164.7Q-3.9 164.9 -5 168.3" fill="none" stroke="#2a5db0" stroke-width="2.5" stroke-linecap="round"/></g>
<rect x="9" y="-1.9" width="9.9" height="3.8" fill="#f2e61c" stroke="#b9b48a" stroke-width="0.5" transform="translate(1090.8 156.5) rotate(-167)"/><rect x="9" y="-1.9" width="9.9" height="3.8" fill="#f2e61c" stroke="#b9b48a" stroke-width="0.5" transform="translate(1090.8 156.5) rotate(-123.5)"/><rect x="9" y="-1.9" width="9.9" height="3.8" fill="#f2e61c" stroke="#b9b48a" stroke-width="0.5" transform="translate(1090.8 156.5) rotate(-75)"/><rect x="9" y="-1.9" width="9.9" height="3.8" fill="#f2e61c" stroke="#b9b48a" stroke-width="0.5" transform="translate(1090.8 156.5) rotate(-28)"/><rect x="9" y="-1.9" width="9.9" height="3.8" fill="#f2e61c" stroke="#b9b48a" stroke-width="0.5" transform="translate(1090.8 156.5) rotate(17)"/><rect x="9" y="-1.9" width="9.9" height="3.8" fill="#f2e61c" stroke="#b9b48a" stroke-width="0.5" transform="translate(1090.8 156.5) rotate(60)"/><rect x="9" y="-1.9" width="9.9" height="3.8" fill="#f2e61c" stroke="#b9b48a" stroke-width="0.5" transform="translate(1090.8 156.5) rotate(104)"/><rect x="9" y="-1.9" width="9.9" height="3.8" fill="#f2e61c" stroke="#b9b48a" stroke-width="0.5" transform="translate(1090.8 156.5) rotate(149)"/><circle cx="1090.8" cy="156.5" r="9.6" fill="#f2e61c" stroke="#f5a81c" stroke-width="0.9"/>
<g transform="translate(1110.26 166.19) scale(0.8 0.84) translate(0 -167.5)"><circle cx="-17.5" cy="169.3" r="8.3" fill="#2a5db0"/><circle cx="-7.9" cy="163.8" r="8" fill="#2a5db0"/><circle cx="1.7" cy="171.5" r="7.2" fill="#2a5db0"/><ellipse cx="-4" cy="172" rx="8.5" ry="6.9" fill="#2a5db0"/><circle cx="-17.5" cy="169.3" r="5.43" fill="#fff"/><circle cx="-7.9" cy="163.8" r="5.12" fill="#fff"/><circle cx="1.7" cy="171.5" r="4.33" fill="#fff"/><ellipse cx="-4" cy="172" rx="5.62" ry="4.03" fill="#fff"/><rect x="-16" y="166" width="16" height="6" fill="#fff"/><path d="M0.6 164.7Q-3.9 164.9 -5 168.3" fill="none" stroke="#2a5db0" stroke-width="2.87" stroke-linecap="round"/></g>
<line x1="69.4" x2="74.4" y1="607.5" y2="607.5" stroke="#2a2a2a" stroke-width="1"/>
<line x1="69.4" x2="74.4" y1="598.5" y2="598.5" stroke="#2a2a2a" stroke-width="1"/>
<line x1="69.4" x2="74.4" y1="588.5" y2="588.5" stroke="#2a2a2a" stroke-width="1"/>
<line x1="69.4" x2="74.4" y1="579.5" y2="579.5" stroke="#2a2a2a" stroke-width="1"/>
<line x1="69.4" x2="74.4" y1="560.5" y2="560.5" stroke="#2a2a2a" stroke-width="1"/>
<line x1="69.4" x2="74.4" y1="551.5" y2="551.5" stroke="#2a2a2a" stroke-width="1"/>
<line x1="69.4" x2="74.4" y1="542.5" y2="542.5" stroke="#2a2a2a" stroke-width="1"/>
<line x1="69.4" x2="74.4" y1="532.5" y2="532.5" stroke="#2a2a2a" stroke-width="1"/>
<line x1="69.4" x2="74.4" y1="514.5" y2="514.5" stroke="#2a2a2a" stroke-width="1"/>
<line x1="69.4" x2="74.4" y1="504.5" y2="504.5" stroke="#2a2a2a" stroke-width="1"/>
<line x1="69.4" x2="74.4" y1="495.5" y2="495.5" stroke="#2a2a2a" stroke-width="1"/>
<line x1="69.4" x2="74.4" y1="486.5" y2="486.5" stroke="#2a2a2a" stroke-width="1"/>
<line x1="69.4" x2="74.4" y1="467.5" y2="467.5" stroke="#2a2a2a" stroke-width="1"/>
<line x1="69.4" x2="74.4" y1="458.5" y2="458.5" stroke="#2a2a2a" stroke-width="1"/>
<line x1="69.4" x2="74.4" y1="448.5" y2="448.5" stroke="#2a2a2a" stroke-width="1"/>
<line x1="69.4" x2="74.4" y1="439.5" y2="439.5" stroke="#2a2a2a" stroke-width="1"/>
<line x1="69.4" x2="74.4" y1="420.5" y2="420.5" stroke="#2a2a2a" stroke-width="1"/>
<clipPath id="ct"><rect x="69.4" y="417.2" width="1025.1" height="197"/></clipPath>
<g clip-path="url(#ct)"><polygon points="69.4,537.81 148.25,528.67 227.11,538.92 305.96,547.31 384.82,552.62 463.67,554.12 542.52,554.58 621.38,545.45 700.23,517.58 779.08,501.36 857.94,502.3 936.79,492.7 1015.65,495.77 1094.5,503.79 1094.5,589.25 1015.65,572.01 936.79,561.01 857.94,554.12 779.08,556.72 700.23,574.43 621.38,582.08 542.52,586.18 463.67,577.51 384.82,570.15 305.96,560.27 227.11,550.01 148.25,543.96 69.4,546.85" fill="rgba(100,149,237,0.5)"/><polygon points="69.4,460.54 148.25,452.43 227.11,457 305.96,469.21 384.82,470.98 463.67,472.84 542.52,485.99 621.38,466.79 700.23,464.08 779.08,457.56 857.94,452.43 936.79,443.21 1015.65,446.94 1094.5,449.36 1094.5,533.24 1015.65,524.1 936.79,511.43 857.94,504.91 779.08,513.48 700.23,522.89 621.38,503.32 542.52,517.58 463.67,495.4 384.82,486.55 305.96,481.42 227.11,468 148.25,467.63 69.4,472.47" fill="rgba(50,205,50,0.4)"/><line x1="69.4" x2="1094.5" y1="569.7" y2="569.7" stroke="rgba(105,105,105,0.28)" stroke-width="1.9"/><line x1="69.4" x2="1094.5" y1="523.1" y2="523.1" stroke="rgba(105,105,105,0.28)" stroke-width="1.9"/><line x1="69.4" x2="1094.5" y1="476.5" y2="476.5" stroke="rgba(105,105,105,0.28)" stroke-width="1.9"/><line x1="69.4" x2="1094.5" y1="429.9" y2="429.9" stroke="rgba(105,105,105,0.28)" stroke-width="1.9"/><line x1="227.11" x2="227.11" y1="417.2" y2="614.2" stroke="rgba(105,105,105,0.28)" stroke-width="1.9"/><line x1="384.82" x2="384.82" y1="417.2" y2="614.2" stroke="rgba(105,105,105,0.28)" stroke-width="1.9"/><line x1="542.52" x2="542.52" y1="417.2" y2="614.2" stroke="rgba(105,105,105,0.28)" stroke-width="1.9"/><line x1="700.23" x2="700.23" y1="417.2" y2="614.2" stroke="rgba(105,105,105,0.28)" stroke-width="1.9"/><line x1="857.94" x2="857.94" y1="417.2" y2="614.2" stroke="rgba(105,105,105,0.28)" stroke-width="1.9"/><line x1="1015.65" x2="1015.65" y1="417.2" y2="614.2" stroke="rgba(105,105,105,0.28)" stroke-width="1.9"/><polyline points="69.4,466.41 148.25,460.08 227.11,462.59 305.96,475.27 384.82,479.37 463.67,484.4 542.52,501.55 621.38,484.77 700.23,493.91 779.08,484.59 857.94,477.88 936.79,476.85 1015.65,485.99 1094.5,491.11" fill="none" stroke="#f80000" stroke-width="5.5" stroke-linejoin="round"/><polyline points="69.4,541.91 148.25,536.31 227.11,544.24 305.96,553.65 384.82,561.01 463.67,565.58 542.52,570.43 621.38,563.34 700.23,545.73 779.08,528.67 857.94,528.21 936.79,525.97 1015.65,533.89 1094.5,545.73" fill="none" stroke="#1e90ff" stroke-width="5.5" stroke-linejoin="round"/></g>
<rect x="69.4" y="417.2" width="1025.1" height="197" fill="none" stroke="#222" stroke-width="1"/>
<text x="53.01" y="577.2" font-size="20" fill="#000" stroke="#000" stroke-width="0.2" textLength="11.12" lengthAdjust="spacingAndGlyphs">5</text>
<text x="40.06" y="530.6" font-size="20" fill="#000" stroke="#000" stroke-width="0.2" textLength="24.48" lengthAdjust="spacingAndGlyphs">10</text>
<text x="40.09" y="484" font-size="20" fill="#000" stroke="#000" stroke-width="0.2" textLength="24.11" lengthAdjust="spacingAndGlyphs">15</text>
<text x="39.91" y="437.4" font-size="20" fill="#000" stroke="#000" stroke-width="0.2" textLength="24.64" lengthAdjust="spacingAndGlyphs">20</text>
<text x="749.3" y="483.6" font-size="18.8" fill="#0000ff" textLength="208.3" lengthAdjust="spacingAndGlyphs">© vreme.us &amp; vreme.pro</text>
<clipPath id="cp"><rect x="69.4" y="700.5" width="1025.1" height="196.8"/></clipPath>
<g clip-path="url(#cp)"><line x1="69.4" x2="1094.5" y1="752" y2="752" stroke="rgba(105,105,105,0.28)" stroke-width="1.9"/><line x1="69.4" x2="1094.5" y1="823.8" y2="823.8" stroke="rgba(105,105,105,0.28)" stroke-width="1.9"/><line x1="227.11" x2="227.11" y1="700.5" y2="897.3" stroke="rgba(105,105,105,0.28)" stroke-width="1.9"/><line x1="384.82" x2="384.82" y1="700.5" y2="897.3" stroke="rgba(105,105,105,0.28)" stroke-width="1.9"/><line x1="542.52" x2="542.52" y1="700.5" y2="897.3" stroke="rgba(105,105,105,0.28)" stroke-width="1.9"/><line x1="700.23" x2="700.23" y1="700.5" y2="897.3" stroke="rgba(105,105,105,0.28)" stroke-width="1.9"/><line x1="857.94" x2="857.94" y1="700.5" y2="897.3" stroke="rgba(105,105,105,0.28)" stroke-width="1.9"/><line x1="1015.65" x2="1015.65" y1="700.5" y2="897.3" stroke="rgba(105,105,105,0.28)" stroke-width="1.9"/></g>
<rect x="69.4" y="896.0999999999999" width="10.2" height="1.6" fill="#555"/>
<rect x="138.05" y="896.0999999999999" width="20.4" height="1.6" fill="#555"/>
<rect x="216.91" y="896.0999999999999" width="20.4" height="1.6" fill="#555"/>
<rect x="295.76" y="896.0999999999999" width="20.4" height="1.6" fill="#555"/>
<rect x="374.62" y="896.0999999999999" width="20.4" height="1.6" fill="#555"/>
<rect x="437.47" y="894" width="52.4" height="3.3" fill="#0048ff"/>
<rect x="462.27" y="881.5" width="2.8" height="15.8" fill="#808080"/>
<rect x="453.47" y="880.1" width="20.4" height="2.8" fill="#808080"/>
<rect x="532.32" y="896.0999999999999" width="20.4" height="1.6" fill="#555"/>
<rect x="595.18" y="895" width="52.4" height="2.3" fill="#0048ff"/>
<rect x="619.98" y="872.5" width="2.8" height="24.8" fill="#808080"/>
<rect x="611.18" y="871.1" width="20.4" height="2.8" fill="#808080"/>
<rect x="674.03" y="825.8" width="52.4" height="71.5" fill="#0048ff"/>
<rect x="698.83" y="723.4" width="2.8" height="173.9" fill="#808080"/>
<rect x="690.03" y="722.0" width="20.4" height="2.8" fill="#808080"/>
<rect x="752.88" y="823" width="52.4" height="74.3" fill="#0048ff"/>
<rect x="777.68" y="712.4" width="2.8" height="184.9" fill="#808080"/>
<rect x="768.88" y="711.0" width="20.4" height="2.8" fill="#808080"/>
<rect x="831.74" y="843.9" width="52.4" height="53.4" fill="#0048ff"/>
<rect x="856.54" y="749.5" width="2.8" height="147.8" fill="#808080"/>
<rect x="847.74" y="748.1" width="20.4" height="2.8" fill="#808080"/>
<rect x="926.59" y="896.0999999999999" width="20.4" height="1.6" fill="#555"/>
<rect x="1005.45" y="896.0999999999999" width="20.4" height="1.6" fill="#555"/>
<rect x="1084.3" y="896.0999999999999" width="10.2" height="1.6" fill="#555"/>
<rect x="69.4" y="700.5" width="1025.1" height="196.8" fill="none" stroke="#222" stroke-width="1"/>
<text x="39.91" y="758.9" font-size="20" fill="#000" stroke="#000" stroke-width="0.2" textLength="24.64" lengthAdjust="spacingAndGlyphs">20</text>
<text x="40.06" y="831.8" font-size="20" fill="#000" stroke="#000" stroke-width="0.2" textLength="24.48" lengthAdjust="spacingAndGlyphs">10</text>
<text x="52.76" y="892.5" font-size="20" fill="#000" stroke="#000" stroke-width="0.2" textLength="11.75" lengthAdjust="spacingAndGlyphs">0</text>
<text x="50.99" y="692.8" font-size="20.4" fill="#000" stroke="#000" stroke-width="0.2" textLength="36.98" lengthAdjust="spacingAndGlyphs">pon</text>
<text x="134.23" y="692.8" font-size="20.4" fill="#000" stroke="#000" stroke-width="0.2" textLength="28.56" lengthAdjust="spacingAndGlyphs">tor</text>
<text x="212.27" y="692.8" font-size="20.4" fill="#000" stroke="#000" stroke-width="0.2" textLength="29.96" lengthAdjust="spacingAndGlyphs">sre</text>
<text x="290.53" y="692.8" font-size="20.4" fill="#000" stroke="#000" stroke-width="0.2" textLength="30.7" lengthAdjust="spacingAndGlyphs">čet</text>
<text x="368.73" y="692.8" font-size="20.4" fill="#000" stroke="#000" stroke-width="0.2" textLength="32.15" lengthAdjust="spacingAndGlyphs">pet</text>
<text x="446.41" y="692.8" font-size="20.4" fill="#000" stroke="#000" stroke-width="0.2" textLength="34.76" lengthAdjust="spacingAndGlyphs">sob</text>
<text x="524.01" y="692.8" font-size="20.4" fill="#000" stroke="#000" stroke-width="0.2" textLength="36.99" lengthAdjust="spacingAndGlyphs">ned</text>
<text x="602.97" y="692.8" font-size="20.4" fill="#000" stroke="#000" stroke-width="0.2" textLength="36.98" lengthAdjust="spacingAndGlyphs">pon</text>
<text x="686.21" y="692.8" font-size="20.4" fill="#000" stroke="#000" stroke-width="0.2" textLength="28.56" lengthAdjust="spacingAndGlyphs">tor</text>
<text x="764.25" y="692.8" font-size="20.4" fill="#000" stroke="#000" stroke-width="0.2" textLength="29.96" lengthAdjust="spacingAndGlyphs">sre</text>
<text x="842.5" y="692.8" font-size="20.4" fill="#000" stroke="#000" stroke-width="0.2" textLength="30.7" lengthAdjust="spacingAndGlyphs">čet</text>
<text x="920.71" y="692.8" font-size="20.4" fill="#000" stroke="#000" stroke-width="0.2" textLength="32.15" lengthAdjust="spacingAndGlyphs">pet</text>
<text x="998.39" y="692.8" font-size="20.4" fill="#000" stroke="#000" stroke-width="0.2" textLength="34.76" lengthAdjust="spacingAndGlyphs">sob</text>
<text x="1075.98" y="692.8" font-size="20.4" fill="#000" stroke="#000" stroke-width="0.2" textLength="36.99" lengthAdjust="spacingAndGlyphs">ned</text>
<text x="50.94" y="926.7" font-size="26.04" fill="#5fd3e0" stroke="#5fd3e0" stroke-width="0.2" textLength="37.05" lengthAdjust="spacingAndGlyphs">0%</text>
<text x="130.04" y="926.7" font-size="26.04" fill="#5fd3e0" stroke="#5fd3e0" stroke-width="0.2" textLength="36.8" lengthAdjust="spacingAndGlyphs">5%</text>
<text x="208.89" y="926.7" font-size="26.04" fill="#5fd3e0" stroke="#5fd3e0" stroke-width="0.2" textLength="36.8" lengthAdjust="spacingAndGlyphs">5%</text>
<text x="287.5" y="926.7" font-size="26.04" fill="#5fd3e0" stroke="#5fd3e0" stroke-width="0.2" textLength="37.05" lengthAdjust="spacingAndGlyphs">0%</text>
<text x="366.35" y="926.7" font-size="26.04" fill="#5fd3e0" stroke="#5fd3e0" stroke-width="0.2" textLength="37.05" lengthAdjust="spacingAndGlyphs">0%</text>
<text x="445.45" y="926.7" font-size="26.04" fill="#5fd3e0" stroke="#5fd3e0" stroke-width="0.2" textLength="36.8" lengthAdjust="spacingAndGlyphs">5%</text>
<text x="524.06" y="926.7" font-size="26.04" fill="#5fd3e0" stroke="#5fd3e0" stroke-width="0.2" textLength="37.05" lengthAdjust="spacingAndGlyphs">0%</text>
<text x="595.34" y="926.7" font-size="26.04" fill="#3a9ad2" stroke="#3a9ad2" stroke-width="0.2" textLength="52.27" lengthAdjust="spacingAndGlyphs">10%</text>
<text x="673.93" y="926.7" font-size="26.04" fill="#1a5fb4" stroke="#1a5fb4" stroke-width="0.2" textLength="52.55" lengthAdjust="spacingAndGlyphs">60%</text>
<text x="753.21" y="926.7" font-size="26.04" fill="#1a5fb4" stroke="#1a5fb4" stroke-width="0.2" textLength="52.11" lengthAdjust="spacingAndGlyphs">55%</text>
<text x="831.86" y="926.7" font-size="26.04" fill="#3a9ad2" stroke="#3a9ad2" stroke-width="0.2" textLength="52.32" lengthAdjust="spacingAndGlyphs">40%</text>
<text x="910.92" y="926.7" font-size="26.04" fill="#3a9ad2" stroke="#3a9ad2" stroke-width="0.2" textLength="52.11" lengthAdjust="spacingAndGlyphs">35%</text>
<text x="989.56" y="926.7" font-size="26.04" fill="#3a9ad2" stroke="#3a9ad2" stroke-width="0.2" textLength="52.32" lengthAdjust="spacingAndGlyphs">40%</text>
<text x="1068.42" y="926.7" font-size="26.04" fill="#3a9ad2" stroke="#3a9ad2" stroke-width="0.2" textLength="52.32" lengthAdjust="spacingAndGlyphs">40%</text>
</svg>
</body></html>
